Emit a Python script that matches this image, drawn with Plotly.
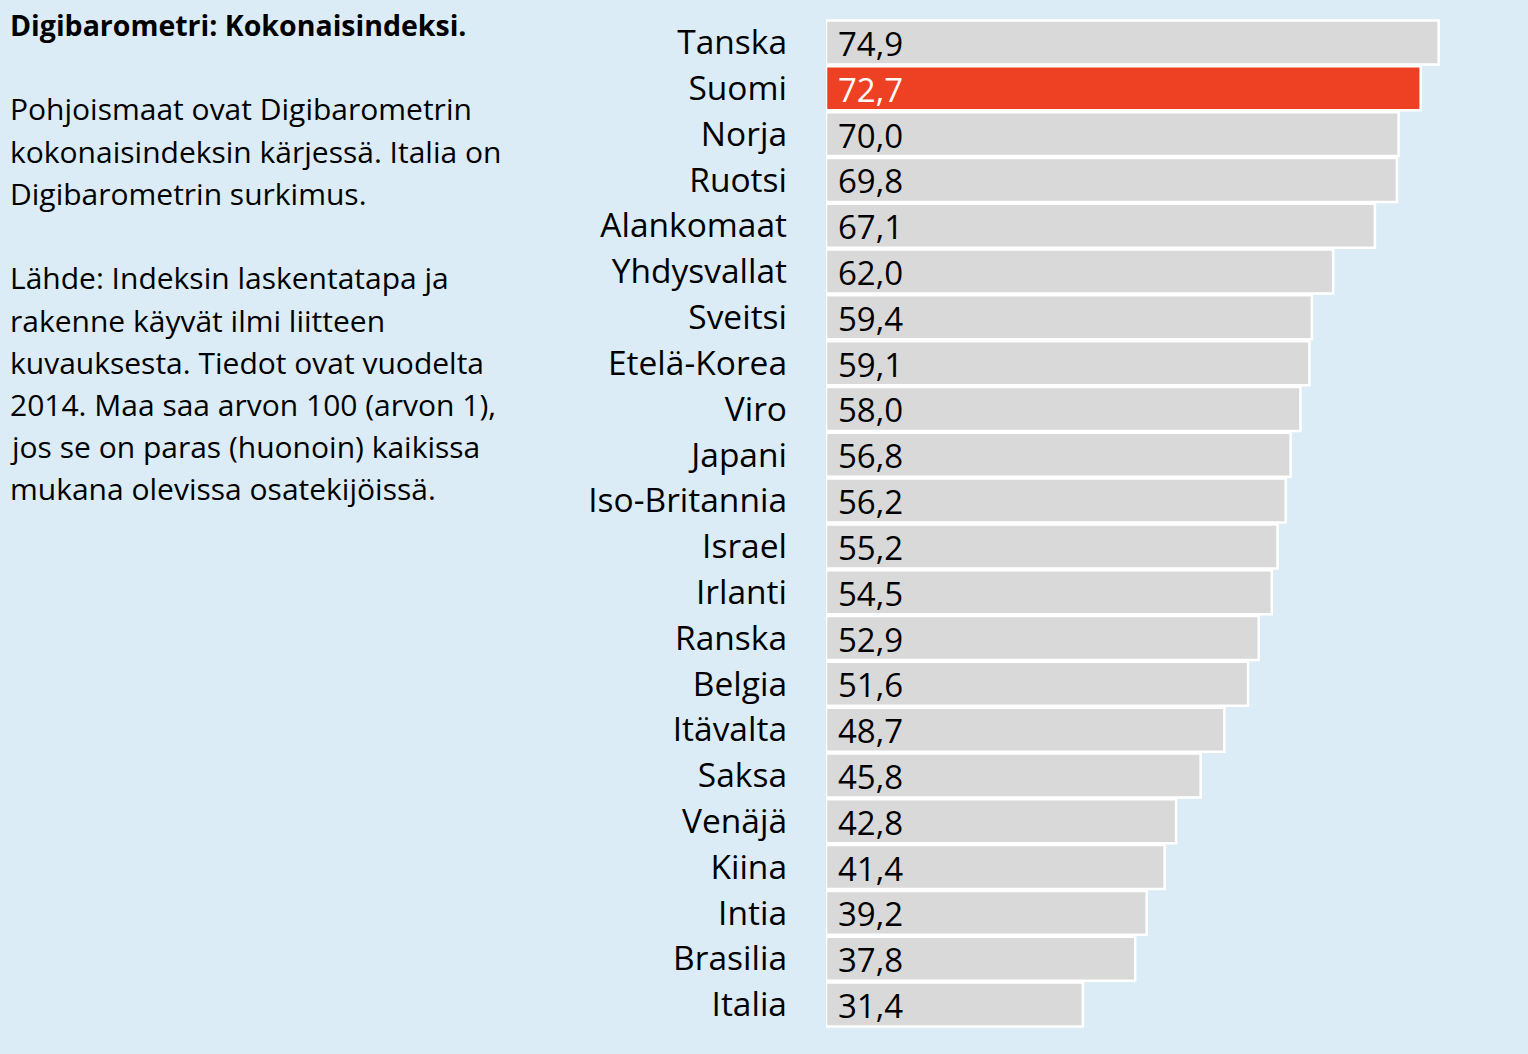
import plotly.graph_objects as go

countries = ["Tanska", "Suomi", "Norja", "Ruotsi", "Alankomaat", "Yhdysvallat", "Sveitsi",
             "Etelä-Korea", "Viro", "Japani", "Iso-Britannia", "Israel", "Irlanti", "Ranska",
             "Belgia", "Itävalta", "Saksa", "Venäjä", "Kiina", "Intia", "Brasilia", "Italia"]
values = [74.9, 72.7, 70.0, 69.8, 67.1, 62.0, 59.4, 59.1, 58.0, 56.8, 56.2, 55.2, 54.5, 52.9,
          51.6, 48.7, 45.8, 42.8, 41.4, 39.2, 37.8, 31.4]
highlight = "Suomi"

title_text = "Digibarometri: Kokonaisindeksi."
body_lines = [
    "Pohjoismaat ovat Digibarometrin",
    "kokonaisindeksin kärjessä. Italia on",
    "Digibarometrin surkimus.",
    "",
    "Lähde: Indeksin laskentatapa ja",
    "rakenne käyvät ilmi liitteen",
    "kuvauksesta. Tiedot ovat vuodelta",
    "2014. Maa saa arvon 100 (arvon 1),",
    "jos se on paras (huonoin) kaikissa",
    "mukana olevissa osatekijöissä.",
]

BG = "#DBECF6"
GRAY = "#D9D9D9"
RED = "#EE4023"
FONT = "Open Sans"

W, H = 1528, 1054
ML, MR, MT, MB = 826, 0, 17, 26
PW, PH = W - ML - MR, H - MT - MB

colors = [RED if c == highlight else GRAY for c in countries]
labels = [f"{v:.1f}".replace(".", ",") for v in values]
label_colors = ["white" if c == highlight else "black" for c in countries]

fig = go.Figure(go.Bar(
    x=values, y=countries, orientation="h",
    marker=dict(color=colors, line=dict(color="white", width=2.5)),
    hoverinfo="skip",
))

annotations = []
for c, lab, col in zip(countries, labels, label_colors):
    annotations.append(dict(x=0, y=c, xref="x", yref="y", text=lab, showarrow=False,
                            xanchor="left", yanchor="middle", xshift=10, yshift=-1,
                            font=dict(family=FONT, size=33, color=col)))

def px_x(px):
    return (px - ML) / PW

def px_y(py):
    return 1 - (py - MT) / PH

annotations.append(dict(x=px_x(8), y=px_y(25), xref="paper", yref="paper", text="<b>" + title_text + "</b>",
                        showarrow=False, xanchor="left", yanchor="middle",
                        font=dict(family=FONT, size=28.5, color="black")))
y0 = 109
for i, line in enumerate(body_lines):
    if not line:
        continue
    yy = y0 + i * 42.2
    annotations.append(dict(x=px_x(8), y=px_y(yy), xref="paper", yref="paper", text=line,
                            showarrow=False, xanchor="left", yanchor="middle",
                            font=dict(family=FONT, size=30, color="black")))

fig.update_layout(
    width=W, height=H,
    margin=dict(l=ML, r=MR, t=MT, b=MB),
    paper_bgcolor=BG, plot_bgcolor=BG,
    bargap=0.04,
    showlegend=False,
    annotations=annotations,
    xaxis=dict(range=[0, PW / 8.18], visible=False, fixedrange=True),
    yaxis=dict(autorange="reversed", showgrid=False, zeroline=False, showline=False,
               ticks="", ticklabelstandoff=38,
               tickfont=dict(family=FONT, size=33.5, color="black"), fixedrange=True),
)

fig.write_html("out.html")
